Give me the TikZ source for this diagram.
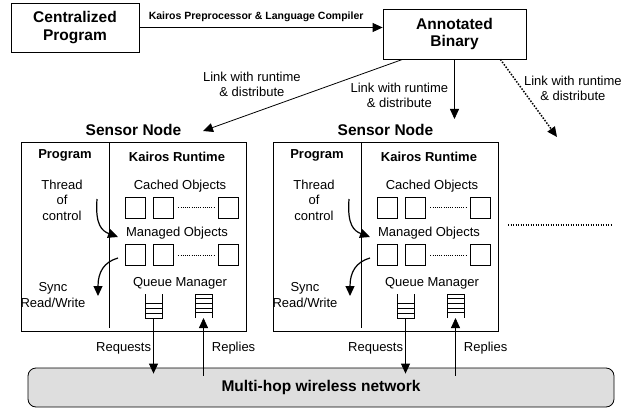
\documentclass[tikz,border=0pt]{standalone}
\usepackage{fontspec}
\setmainfont{Liberation Sans}
\usetikzlibrary{arrows.meta,calc}

\tikzset{
  arr/.style={-{Triangle[length=10pt,width=9pt]}},
  box/.style={draw, minimum width=128pt, minimum height=49pt, inner sep=0pt, align=center,
    font=\bfseries\fontsize{15.5}{17.5}\selectfont},
  head/.style={inner sep=0pt, font=\bfseries\fontsize{15.5}{17.5}\selectfont},
  txt/.style={inner sep=0pt, align=center, font=\fontsize{13}{15.5}\selectfont},
  sub/.style={inner sep=0pt, font=\bfseries\fontsize{13}{15.5}\selectfont},
  lbl/.style={txt},
  flow/.style={arr, line width=1.2pt},
  sensor/.style={draw, minimum width=225pt, minimum height=189pt, inner sep=0pt},
  obj/.style={draw, minimum width=20pt, minimum height=21pt, inner sep=0pt},
  slot/.style={minimum width=17pt, minimum height=24pt, inner sep=0pt, outer sep=0pt},
  dots/.style={line width=1pt, dash pattern=on 1pt off 1.2pt, shorten <=5pt, shorten >=4pt},
  net/.style={draw, fill=black!13, rounded corners=8pt, minimum width=586pt, minimum height=39pt,
    font=\bfseries\fontsize{15.5}{17.5}\selectfont}
}

\begin{document}
\begin{tikzpicture}[x=1pt,y=-1pt,line width=0.8pt]
\useasboundingbox (0,0) rectangle (623,409);

% compile step
\draw (75,27.5) node[box] (central) {Centralized\\Program};
\draw (454.5,34) node[box,minimum width=143pt,minimum height=50pt] (annotated) {Annotated\\Binary};
\path[arr] (central.east) edge node[pos=0.48,above=5pt,inner sep=0pt,font=\bfseries\fontsize{10.5}{12}\selectfont] {Kairos Preprocessor \& Language Compiler} (central.east -| annotated.west);

% distribution
\coordinate (tip1) at (203,131);
\coordinate (tip2) at (454.5,119);
\coordinate (tip3) at (557,137);
\path[arr] ($(annotated.south west)+(20,0)$) edge node[pos=0.755,yshift=29pt,lbl] {Link with runtime\\\& distribute} (tip1);
\path[arr] (annotated.south) edge node[pos=0.6,left=6pt,lbl] {Link with runtime\\\& distribute} (tip2);
\path[arr,line width=1.5pt,dash pattern=on 1.5pt off 1.5pt] ($(annotated.south east)+(-26,0)$) edge node[pos=0.37,right=2pt,lbl] {Link with runtime\\\& distribute} (tip3);
\draw[line width=1.2pt,dash pattern=on 1.2pt off 1.3pt] (508,225) -- (612,225);

% network
\draw (321,387.5) node[net] (net) {Multi-hop wireless network};

% sensor nodes
\foreach \i/\dx in {1/0,2/252}{
  \draw (133.5+\dx,236.5) node[sensor] (sensor\i) {};
  \draw (133.5+\dx,130) node[head] (head\i) {Sensor Node};
  \draw (109+\dx,142) -- (109+\dx,328);
  \draw (65+\dx,155) node[sub] (prog\i) {Program};
  \draw (177+\dx,157) node[sub] (rt\i) {Kairos Runtime};
  \draw (62+\dx,200) node[txt] (thr\i) {Thread\\of\\control};
  \draw (180+\dx,186) node[txt] (cache\i) {Cached Objects};
  \draw (177+\dx,233) node[txt] (man\i) {Managed Objects};
  \draw (180+\dx,283) node[txt] (queue\i) {Queue Manager};
  \draw (53+\dx,295) node[txt] (sync\i) {Sync\\Read/Write};

  % object slots
  \draw (135+\dx,207.5) node[obj] (ca\i) {};
  \draw (163+\dx,207.5) node[obj] (cb\i) {};
  \draw (228.5+\dx,207.5) node[obj] (cc\i) {};
  \draw[dots] (cb\i.east) -- (cc\i.west);
  \draw (135+\dx,255) node[obj] (ma\i) {};
  \draw (163+\dx,255) node[obj] (mb\i) {};
  \draw (228.5+\dx,255) node[obj] (mc\i) {};
  \draw[dots] (mb\i.east) -- (mc\i.west);

  % thread of control
  \coordinate (ts\i) at (97+\dx,199);
  \coordinate (te\i) at (118+\dx,237);
  \draw[flow] (ts\i) .. controls ($(ts\i)+(-2,26)$) and ($(te\i)+(-16,-6)$) .. (te\i);
  \coordinate (ss\i) at (118+\dx,258);
  \coordinate (se\i) at (98+\dx,296);
  \draw[flow] (ss\i) .. controls ($(ss\i)+(-14,4)$) and ($(se\i)+(0,-24)$) .. (se\i);

  % queues
  \draw (153.5+\dx,306) node[slot] (qin\i) {};
  \draw (qin\i.north west) -- (qin\i.south west) -- (qin\i.south east) -- (qin\i.north east);
  \foreach \y in {5,10,15} \draw (qin\i.south west) ++(0,-\y) -- ++(17,0);
  \draw (203.5+\dx,306) node[slot] (qout\i) {};
  \draw (qout\i.south west) -- (qout\i.north west) -- (qout\i.north east) -- (qout\i.south east);
  \foreach \y in {4.7,9.3,14,18.7} \draw (qout\i.north west) ++(0,\y) -- ++(17,0);

  \path[arr] (qin\i.south) edge node[pos=0.55,left=2pt,lbl] {Requests} ($(qin\i.south |- net.north)+(0,6)$);
  \path[arr] ($(qout\i.south |- net.north)+(0,8)$) edge node[pos=0.47,right=8pt,lbl] {Replies} (qout\i.south);
}
\end{tikzpicture}
\end{document}
